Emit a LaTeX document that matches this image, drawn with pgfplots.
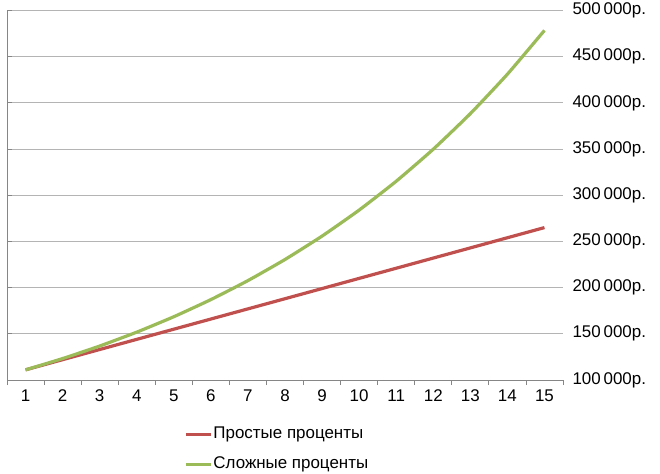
\documentclass[border=0pt]{standalone}
\usepackage{pgfplots}
\pgfplotsset{compat=1.18}
\usepackage{fontspec}
\setmainfont{Liberation Sans}
\definecolor{cred}{HTML}{C0504D}
\definecolor{cgreen}{HTML}{9BBB59}
\definecolor{cgrid}{HTML}{B4B4B4}
\definecolor{caxis}{HTML}{868686}
\begin{document}
\begin{tikzpicture}
\useasboundingbox (-7bp,-94bp) rectangle (653bp,380bp);
\begin{axis}[
  at={(0,0)}, anchor=south west,
  scale only axis,
  width=556bp, height=369.5bp,
  xmin=0.5, xmax=15.5,
  ymin=100000, ymax=500000,
  axis line style={draw=none},
  xtick={1,...,15},
  xticklabels={1,2,3,4,5,6,7,8,9,10,11,12,13,14,15},
  major x tick style={draw=none},
  minor xtick={0.5,1.5,...,15.5},
  minor x tick style={draw=caxis, line width=0.8bp},
  minor tick length=5bp,
  xtick pos=bottom,
  xtick align=outside,
  ytick align=inside,
  ytick={100000,150000,...,500000},
  yticklabels={100\,000р.,150\,000р.,200\,000р.,250\,000р.,300\,000р.,350\,000р.,400\,000р.,450\,000р.,500\,000р.},
  ytick pos=left,
  yticklabel pos=right,
  major y tick style={draw=caxis, line width=0.8bp},
  major tick length=5bp,
  ymajorgrids,
  major grid style={draw=cgrid, line width=0.8bp},
  yticklabel style={font=\fontsize{17}{20}\selectfont, anchor=west, xshift=6bp},
  xticklabel style={font=\fontsize{17}{20}\selectfont, yshift=-1bp},
  scaled y ticks=false,
  clip=false,
  legend style={at={(rel axis cs:0.3185,-0.122)}, anchor=north west, draw=none, fill=none,
     inner sep=0pt, row sep=12bp, font=\fontsize{17}{20}\selectfont,
     nodes={inner sep=1pt, text height=12bp, text depth=4bp}},
  legend cell align=left,
  legend image code/.code={\draw[#1] (0bp,0bp) -- (25bp,0bp);},
]
\addplot[cred, line width=3.2bp, smooth, tension=0.3] coordinates {
(1,111000) (2,122000) (3,133000) (4,144000) (5,155000) (6,166000) (7,177000) (8,188000)
(9,199000) (10,210000) (11,221000) (12,232000) (13,243000) (14,254000) (15,265000)};
\addlegendentry{Простые проценты}
\addplot[cgreen, line width=3.2bp, smooth, tension=0.3] coordinates {
(1,111000) (2,123210) (3,136763) (4,151807) (5,168506) (6,187041) (7,207616) (8,230454)
(9,255804) (10,283942) (11,315176) (12,349845) (13,388328) (14,431044) (15,478459)};
\addlegendentry{Сложные проценты}
\draw[caxis, line width=1bp] (rel axis cs:0,0) -- (rel axis cs:0,1);
\draw[caxis, line width=1bp] (rel axis cs:0,0) -- (rel axis cs:1,0);
\end{axis}
\end{tikzpicture}
\end{document}
